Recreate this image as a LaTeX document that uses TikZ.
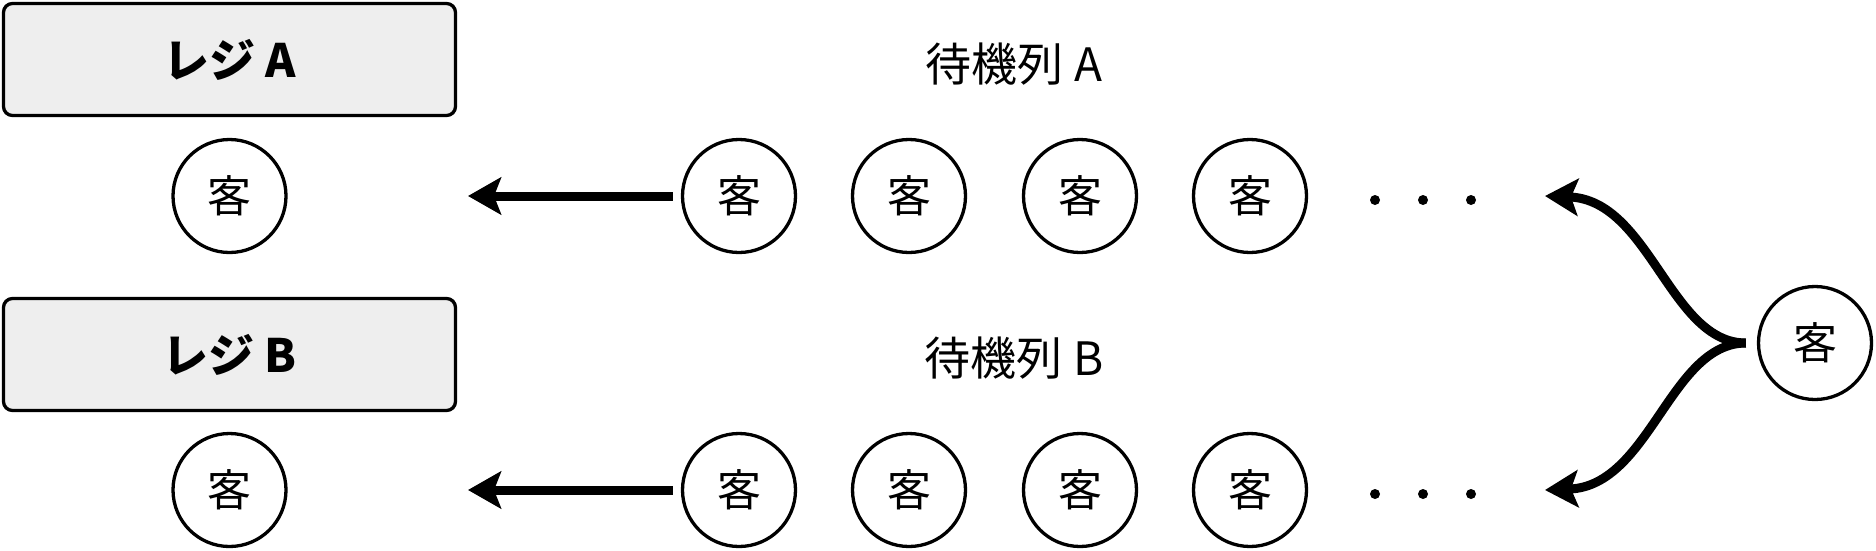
\documentclass[tikz,border=0pt]{standalone}
\usepackage{fontspec}
\setmainfont{Noto Sans CJK JP}
\usetikzlibrary{arrows.meta}

\begin{document}
\begin{tikzpicture}[
  x=1pt, y=-1pt,
  reg/.style={draw, line width=3.3pt, rounded corners=9pt, fill=gray!13, minimum width=452pt, minimum height=112pt, font=\fontsize{46}{50}\selectfont\bfseries},
  cust/.style={draw, circle, line width=3.3pt, fill=white, minimum size=113pt, inner sep=0pt, font=\fontsize{44}{48}\selectfont},
  lbl/.style={font=\fontsize{46}{50}\selectfont},
  arr/.style={-{Stealth[length=33pt, width=37pt, inset=7pt]}, line width=9pt}
]
\useasboundingbox (0,0) rectangle (1876,550);

% registers
\node[reg] (regA) at (229.5,59.5) {レジ A};
\node[reg] (regB) at (229.5,354.5) {レジ B};
\node[cust] (servA) at (229.5,196) {客};
\node[cust] (servB) at (229.5,490) {客};

% queues
\node[lbl] (qlabelA) at (1014,64) {待機列 A};
\node[lbl] (qlabelB) at (1014,358) {待機列 B};
\foreach \i/\x in {1/739, 2/909, 3/1080, 4/1250} {
  \node[cust] (qa\i) at (\x,196) {客};
  \node[cust] (qb\i) at (\x,490) {客};
}
\foreach \x in {1375, 1423, 1471} {
  \fill (\x,200) circle (5);
  \fill (\x,494) circle (5);
}

% new customer
\node[cust] (newc) at (1815,343) {客};

\coordinate (endA) at (468,196);
\coordinate (endB) at (468,490);
\coordinate (tailA) at (1545,196);
\coordinate (tailB) at (1545,490);

\draw[arr] ([xshift=-8pt]qa1.west) -- (endA);
\draw[arr] ([xshift=-8pt]qb1.west) -- (endB);
\draw[arr] ([xshift=-11pt]newc.west) .. controls (1670,343) and (1650,200) .. (tailA);
\draw[arr] ([xshift=-11pt]newc.west) .. controls (1670,343) and (1650,486) .. (tailB);
\end{tikzpicture}
\end{document}
